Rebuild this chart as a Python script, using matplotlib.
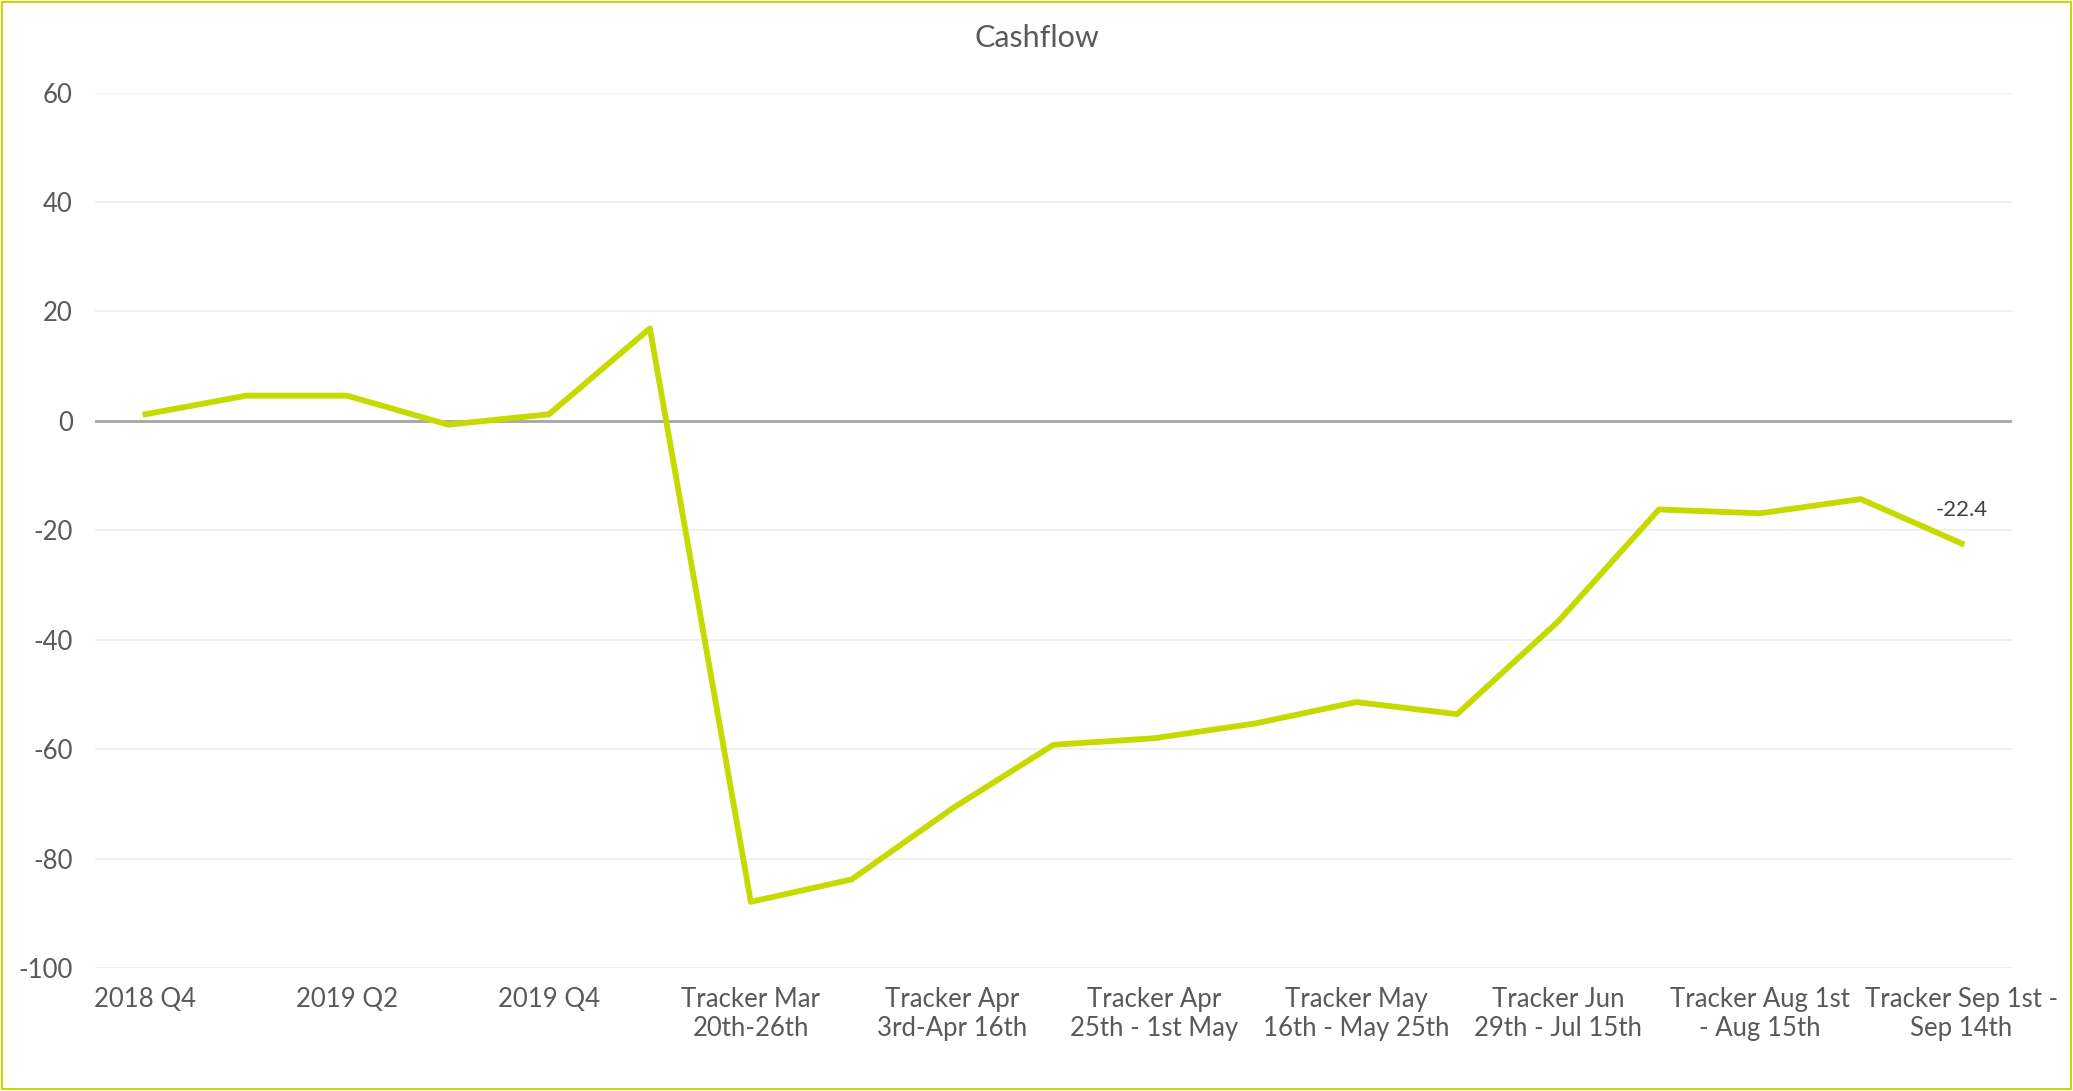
#! cashflow_line.py
# recreate the Cashflow tracker line chart

from matplotlib import pyplot as plt
from matplotlib.patches import Rectangle
import numpy as np

# values
cashflow = [1.2, 4.6, 4.6, -0.7, 1.2, 16.9, -87.9, -83.8, -70.8, -59.2,
            -58.0, -55.3, -51.4, -53.6, -36.7, -16.2, -16.9, -14.3, -22.4]

# only every other category is labelled in the original
shown_labels = ['2018 Q4', '2019 Q2', '2019 Q4', 'Tracker Mar\n20th-26th',
                'Tracker Apr\n3rd-Apr 16th', 'Tracker Apr\n25th - 1st May',
                'Tracker May\n16th - May 25th', 'Tracker Jun\n29th - Jul 15th',
                'Tracker Aug 1st\n- Aug 15th', 'Tracker Sep 1st -\nSep 14th']

y_ticks = [-100, -80, -60, -40, -20, 0, 20, 40, 60]

line_col = '#C5DB00'
txt_col = '#595959'
plt.rcParams['font.family'] = ['Lato', 'DejaVu Sans']
plt.rcParams['axes.unicode_minus'] = False

fig = plt.figure(figsize=(20.73, 10.91), dpi=100)
ax = fig.add_axes([0.0458, 0.1127, 0.9248, 0.8025])

x = np.arange(len(cashflow))
ax.plot(x, cashflow, color=line_col, lw=4.2, solid_joinstyle='round', zorder=3)
ax.axhline(0, color='#A6A6A6', lw=2, zorder=2)

# last point label
ax.annotate('%.1f' % cashflow[-1], (x[-1], cashflow[-1]), xytext=(0, 17),
            textcoords='offset points', ha='center', va='bottom',
            fontsize=16, color='#404040')

ax.set_xlim(-0.5, len(cashflow) - 0.5)
ax.set_ylim(-100, 60)
ax.set_yticks(y_ticks)
ax.set_xticks(x[::2])
ax.set_xticklabels(shown_labels, fontsize=18.5, color=txt_col, linespacing=1.2)
ax.tick_params(axis='y', labelsize=18.5, labelcolor=txt_col, length=0, pad=16)
ax.tick_params(axis='x', length=0, pad=14)
ax.grid(axis='y', color='#F0F0F0', lw=1.5, zorder=0)
for s in ax.spines.values():
    s.set_visible(False)

fig.text(0.5, 0.965, 'Cashflow', ha='center', va='center', fontsize=22, color=txt_col)

# border around the whole picture
fig.patches.append(Rectangle((0.0008, 0.0014), 0.9984, 0.9972, transform=fig.transFigure,
                             fill=False, edgecolor=line_col, lw=1.5))

plt.savefig('out.png', dpi=100)
